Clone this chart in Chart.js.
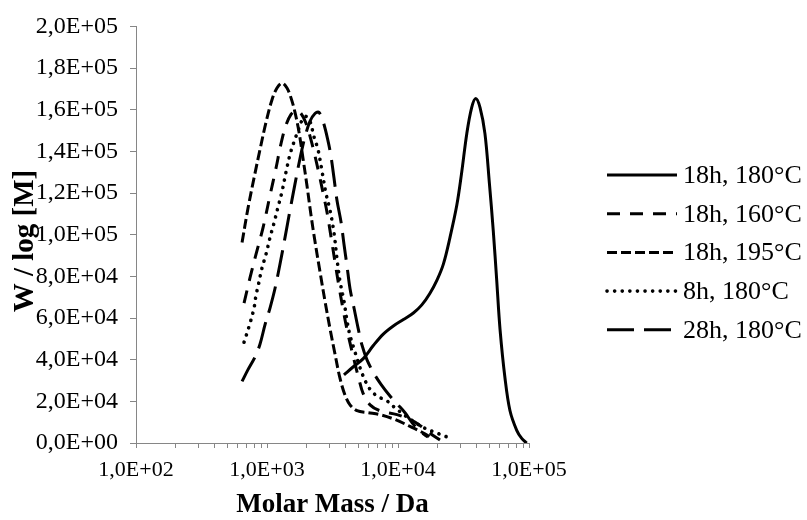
<!DOCTYPE html>
<html>
<head>
<meta charset="utf-8">
<title>Molar mass distribution</title>
<script src="https://cdn.jsdelivr.net/npm/chart.js@4.4.1/dist/chart.umd.min.js"></script>
<style>
    body { margin: 0; background: #ffffff; }
    #wrap { width: 807px; height: 520px; }
</style>
</head>
<body>
<div id="wrap"><canvas id="mmdChart" width="807" height="520"></canvas></div>
<script>
// series labels (legend order)
const seriesLabels = ["18h, 180°C", "18h, 160°C", "18h, 195°C", "8h, 180°C", "28h, 180°C"]

// molar mass (Da) and W / log[M]
const mass18h180 = [3870, 4560, 5430, 6480, 7720, 9210, 11000, 13100, 15200, 17500, 19800, 22200, 24900, 28100, 30600, 33500, 36500, 39200, 42300, 46100, 49800, 53400, 56700, 60100, 65600, 71600, 80600, 88000, 96000]
const wlog18h180 = [32700, 36600, 40500, 46800, 52300, 56200, 59300, 62400, 66300, 71800, 78100, 85900, 98500, 114100, 129700, 148500, 161000, 165400, 161000, 148500, 125000, 101600, 78100, 54600, 31100, 15500, 6100, 2200, 0]

const mass18h160 = [668, 742, 824, 932, 1054, 1171, 1279, 1397, 1525, 1665, 1818, 1985, 2205, 2451, 2677, 2871, 3080, 3304, 3545, 3805, 4081, 4377, 4697, 5039, 5405, 6114, 7289, 9826, 12350, 14720, 17550, 20920]
const wlog18h160 = [67140, 79350, 90600, 103300, 118800, 131900, 143670, 152600, 157750, 159630, 158200, 153500, 143670, 131460, 120200, 110800, 99060, 86860, 75120, 64320, 54460, 46010, 38030, 30520, 23940, 18310, 15490, 13620, 11270, 8450, 4700, 1410]

const mass18h195 = [645, 716, 796, 884, 983, 1092, 1192, 1302, 1421, 1525, 1636, 1755, 1883, 2020, 2167, 2325, 2539, 2772, 3026, 3304, 3610, 3940, 4301, 4864, 5902, 7289, 9487, 12350, 15250, 18180]
const wlog18h195 = [96250, 112700, 127200, 140850, 154000, 164800, 170400, 172800, 170400, 165700, 158700, 149300, 136600, 123500, 109400, 96700, 82160, 68080, 54930, 42720, 30990, 23010, 18310, 15490, 14550, 13620, 11270, 7980, 5160, 2350]

const mass8h180 = [668, 729, 796, 824, 854, 916, 983, 1054, 1131, 1213, 1302, 1397, 1498, 1608, 1724, 1850, 1985, 2129, 2285, 2451, 2630, 2821, 3026, 3247, 3423, 3610, 3872, 4081, 4301, 4697, 5128, 5600, 6114, 6915, 8242, 9487, 11310, 13490, 16080, 19160, 22850, 26290]
const wlog8h180 = [48360, 55870, 64790, 70900, 75120, 84040, 90600, 98600, 105600, 113150, 120660, 130050, 138500, 144600, 149800, 154900, 156800, 154470, 146950, 140850, 130500, 119700, 111700, 100900, 88300, 77470, 68080, 58690, 51650, 43660, 36150, 30050, 25820, 22540, 20190, 16900, 13150, 9860, 7040, 5160, 3290, 1880]

const mass28h180 = [645, 716, 810, 884, 966, 1054, 1151, 1257, 1372, 1498, 1636, 1786, 1950, 2129, 2325, 2494, 2677, 2922, 3080, 3247, 3423, 3674, 3872, 4081, 4301, 4615, 4950, 5312, 5800, 6559, 7418, 8688, 10000, 11310, 12790, 14720, 16940]
const wlog28h180 = [29580, 35210, 41320, 47420, 56810, 64790, 74180, 85900, 98600, 111700, 124400, 136600, 146950, 154470, 158200, 158700, 154470, 145080, 137560, 127200, 116400, 106100, 95300, 84980, 74180, 64790, 55400, 46950, 39910, 33330, 28170, 22540, 18310, 14550, 9860, 5630, 2820]

// axis ticks
const xDecades = [100, 1000, 10000, 100000]
const xMinorSteps = [1, 2, 3, 4, 5, 6, 7, 8, 9]
const yMin = 0
const yMax = 200000
const yStep = 20000

const serif = "'Liberation Serif', 'Times New Roman', serif"

// 1,0E+03 style labels
function sciLabel(v) {
    if (v === 0) return "0,0E+00"
    let e = Math.floor(Math.log10(v) + 1e-9)
    let m = v / Math.pow(10, e)
    return m.toFixed(1).replace(".", ",") + "E+" + String(e).padStart(2, "0")
}

function isDecade(v) {
    let l = Math.log10(v)
    return Math.abs(l - Math.round(l)) < 1e-9
}

function toPoints(xs, ys) {
    return xs.map((m, i) => ({ x: m, y: ys[i] }))
}

// every 1..9 x 10^n mark from 100 up to 100000
let xTickValues = []
xDecades.forEach(d => {
    xMinorSteps.forEach(s => {
        if (d * s <= xDecades[xDecades.length - 1]) xTickValues.push(d * s)
    })
})

const lineStyles = [
    { dash: [], cap: "butt", width: 3 },
    { dash: [13, 10], cap: "butt", width: 3 },
    { dash: [10, 4], cap: "butt", width: 3 },
    { dash: [0.1, 7.5], cap: "round", width: 3.6 },
    { dash: [27, 10], cap: "butt", width: 3 }
]

const seriesData = [
    toPoints(mass18h180, wlog18h180),
    toPoints(mass18h160, wlog18h160),
    toPoints(mass18h195, wlog18h195),
    toPoints(mass8h180, wlog8h180),
    toPoints(mass28h180, wlog28h180)
]

const datasets = seriesLabels.map((label, i) => ({
    label: label,
    data: seriesData[i],
    showLine: true,
    fill: false,
    borderColor: "#000000",
    borderWidth: lineStyles[i].width,
    borderDash: lineStyles[i].dash,
    borderCapStyle: lineStyles[i].cap,
    pointRadius: 0,
    tension: 0.35
}))

// legend on the right and rotated y title, drawn by hand
const sideBits = {
    id: "sideBits",
    afterDraw(chart) {
        const ctx = chart.ctx
        ctx.save()
        ctx.fillStyle = "#000000"
        ctx.strokeStyle = "#000000"
        ctx.font = "26px " + serif
        ctx.textAlign = "left"
        ctx.textBaseline = "middle"
        chart.data.datasets.forEach((ds, i) => {
            let y = 175 + i * 38.7
            ctx.lineWidth = ds.borderWidth
            ctx.lineCap = ds.borderCapStyle
            ctx.setLineDash(ds.borderDash)
            ctx.beginPath()
            ctx.moveTo(607, y)
            ctx.lineTo(677, y)
            ctx.stroke()
            ctx.setLineDash([])
            ctx.fillText(ds.label, 683, y + 1)
        })
        ctx.translate(26, 241)
        ctx.rotate(-Math.PI / 2)
        ctx.font = "bold 29px " + serif
        ctx.textAlign = "center"
        ctx.fillText("W / log [M]", 0, 0)
        ctx.restore()
    }
}

const ctx = document.getElementById("mmdChart").getContext("2d")
new Chart(ctx, {
    type: "scatter",
    data: { datasets: datasets },
    options: {
        responsive: false,
        animation: false,
        events: [],
        layout: { padding: { top: 17, right: 278, bottom: 0, left: 0 } },
        plugins: {
            legend: { display: false },
            tooltip: { enabled: false }
        },
        scales: {
            x: {
                type: "logarithmic",
                min: xDecades[0],
                max: xDecades[xDecades.length - 1],
                afterBuildTicks: axis => {
                    axis.ticks = xTickValues.map(v => ({ value: v, major: isDecade(v) }))
                },
                afterFit: axis => { axis.height = 77 },
                grid: { drawOnChartArea: false, drawTicks: true, tickLength: 5, color: "#868686", lineWidth: 1 },
                border: { display: true, color: "#868686", width: 1 },
                ticks: {
                    autoSkip: false,
                    maxRotation: 0,
                    minRotation: 0,
                    padding: 9,
                    color: "#000000",
                    font: { family: serif, size: 22 },
                    callback: v => isDecade(v) ? sciLabel(v) : ""
                },
                title: {
                    display: true,
                    text: "Molar Mass / Da",
                    color: "#000000",
                    font: { family: serif, size: 27, weight: "bold", lineHeight: 1.1 },
                    padding: { top: 0, bottom: 0 }
                }
            },
            y: {
                min: yMin,
                max: yMax,
                afterFit: axis => { axis.width = 136 },
                grid: { drawOnChartArea: false, drawTicks: true, tickLength: 6, color: "#868686", lineWidth: 1 },
                border: { display: true, color: "#868686", width: 1 },
                ticks: {
                    stepSize: yStep,
                    padding: 12,
                    color: "#000000",
                    font: { family: serif, size: 24 },
                    callback: v => sciLabel(v)
                }
            }
        }
    },
    plugins: [sideBits]
})
</script>
</body>
</html>
